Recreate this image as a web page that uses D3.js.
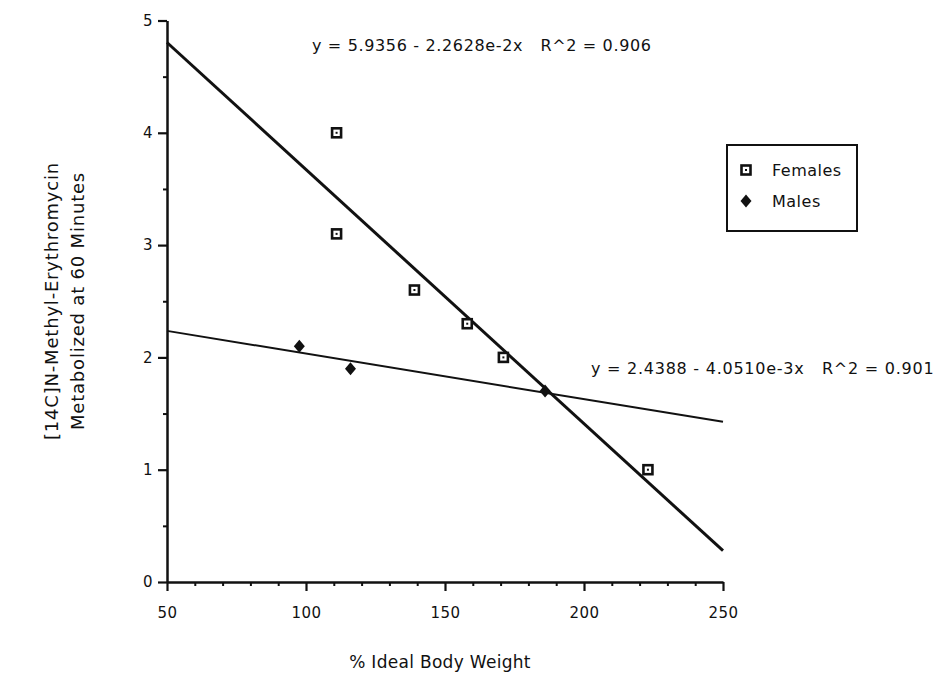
<!DOCTYPE html>
<html>
<head>
<meta charset="utf-8">
<script src="https://cdn.jsdelivr.net/npm/d3@7"></script>
<style>
  html, body { margin: 0; padding: 0; background: #fff; }
  svg { display: block; }
  text { font-family: "DejaVu Sans", "Liberation Sans", sans-serif; fill: #111; white-space: pre; }
</style>
</head>
<body>
<svg id="chart" width="937" height="699"></svg>
<script>
// ---- data ----
const xTickValues = [50, 100, 150, 200, 250];
const xMinorTicks = [60, 70, 80, 90, 110, 120, 130, 140, 160, 170, 180, 190, 210, 220, 230, 240];
const yTickValues = [0, 1, 2, 3, 4, 5];
const yMinorTicks = [0.5, 1.5, 2.5, 3.5, 4.5];

const femaleX = [111, 111, 139, 158, 171, 223];
const femaleY = [4.0, 3.1, 2.6, 2.3, 2.0, 1.0];
const maleX = [97.6, 116, 186];
const maleY = [2.1, 1.9, 1.7];

const femaleFit = [5.9356, -2.2628e-2];   // intercept, slope
const maleFit = [2.4388, -4.0510e-3];
const femaleEq = "y = 5.9356 - 2.2628e-2x   R^2 = 0.906";
const maleEq = "y = 2.4388 - 4.0510e-3x   R^2 = 0.901";
const legendLabels = ["Females", "Males"];
const xTitle = "% Ideal Body Weight";
const yTitle = ["[14C]N-Methyl-Erythromycin", "Metabolized at 60 Minutes"];

// ---- chart ----
const svg = d3.select("#chart");
const x = d3.scaleLinear().domain([50, 250]).range([167, 723]);
const y = d3.scaleLinear().domain([0, 5]).range([582, 20.5]);

// minor ticks
svg.append("g").attr("transform", `translate(0,${y(0)})`)
  .call(d3.axisBottom(x).tickValues(xMinorTicks).tickSize(4).tickFormat(""))
  .call(g => g.select(".domain").remove())
  .call(g => g.selectAll("line").attr("stroke", "#111").attr("stroke-width", 2));
svg.append("g").attr("transform", `translate(${x(50)},0)`)
  .call(d3.axisLeft(y).tickValues(yMinorTicks).tickSize(4).tickFormat(""))
  .call(g => g.select(".domain").remove())
  .call(g => g.selectAll("line").attr("stroke", "#111").attr("stroke-width", 2));

// major axes
const xAxis = svg.append("g").attr("transform", `translate(0,${y(0)})`)
  .call(d3.axisBottom(x).tickValues(xTickValues).tickFormat(d3.format("d"))
    .tickSize(9).tickSizeOuter(0).tickPadding(16));
const yAxis = svg.append("g").attr("transform", `translate(${x(50)},0)`)
  .call(d3.axisLeft(y).tickValues(yTickValues).tickFormat(d3.format("d"))
    .tickSize(9).tickSizeOuter(0).tickPadding(5));
[xAxis, yAxis].forEach(g => {
  g.select(".domain").attr("stroke", "#111").attr("stroke-width", 2.5);
  g.selectAll(".tick line").attr("stroke", "#111").attr("stroke-width", 2.2);
  g.selectAll(".tick text").style("font-family", "DejaVu Sans, sans-serif")
    .style("font-size", "15px").style("letter-spacing", "0.5px").attr("fill", "#222");
});

// regression lines
function fitLine(fit, w) {
  const xs = x.domain();
  svg.append("line")
    .attr("x1", x(xs[0])).attr("y1", y(fit[0] + fit[1] * xs[0]))
    .attr("x2", x(xs[1])).attr("y2", y(fit[0] + fit[1] * xs[1]))
    .attr("stroke", "#111").attr("stroke-width", w);
}
fitLine(femaleFit, 3);
fitLine(maleFit, 2);

// markers
function squareMarker(g, cx, cy) {
  g.append("rect").attr("x", cx - 4.5).attr("y", cy - 4.5).attr("width", 9).attr("height", 9)
    .attr("fill", "#fff").attr("stroke", "#111").attr("stroke-width", 2.6);
  g.append("rect").attr("x", cx - 1).attr("y", cy - 1).attr("width", 2).attr("height", 2).attr("fill", "#111");
}
function diamondMarker(g, cx, cy) {
  g.append("path").attr("d", `M${cx},${cy - 6.5}L${cx + 5.5},${cy}L${cx},${cy + 6.5}L${cx - 5.5},${cy}Z`)
    .attr("fill", "#111");
}
const pts = svg.append("g");
femaleX.forEach((v, i) => squareMarker(pts, x(v), y(femaleY[i])));
maleX.forEach((v, i) => diamondMarker(pts, x(v), y(maleY[i])));

// equations
svg.append("text").attr("x", 312).attr("y", 51).style("font-size", "16px")
  .style("letter-spacing", "0.65px").text(femaleEq);
svg.append("text").attr("x", 591).attr("y", 374).style("font-size", "16px")
  .style("letter-spacing", "0.75px").text(maleEq);

// legend
const lg = svg.append("g");
lg.append("rect").attr("x", 727).attr("y", 145).attr("width", 130).attr("height", 86)
  .attr("fill", "#fff").attr("stroke", "#111").attr("stroke-width", 2);
squareMarker(lg, 746, 170);
diamondMarker(lg, 746, 201);
lg.append("text").attr("x", 772).attr("y", 176).style("font-size", "16px")
  .style("letter-spacing", "0.5px").text(legendLabels[0]);
lg.append("text").attr("x", 772).attr("y", 207).style("font-size", "16px")
  .style("letter-spacing", "0.5px").text(legendLabels[1]);

// axis titles
svg.append("text").attr("x", 440).attr("y", 668).attr("text-anchor", "middle")
  .style("font-size", "17px").style("letter-spacing", "0.3px").text(xTitle);
yTitle.forEach((t, i) => {
  svg.append("text").attr("transform", `translate(${58 + i * 26},301) rotate(-90)`)
    .attr("text-anchor", "middle").style("font-size", "18px")
    .style("letter-spacing", "0.8px").text(t);
});
</script>
</body>
</html>
